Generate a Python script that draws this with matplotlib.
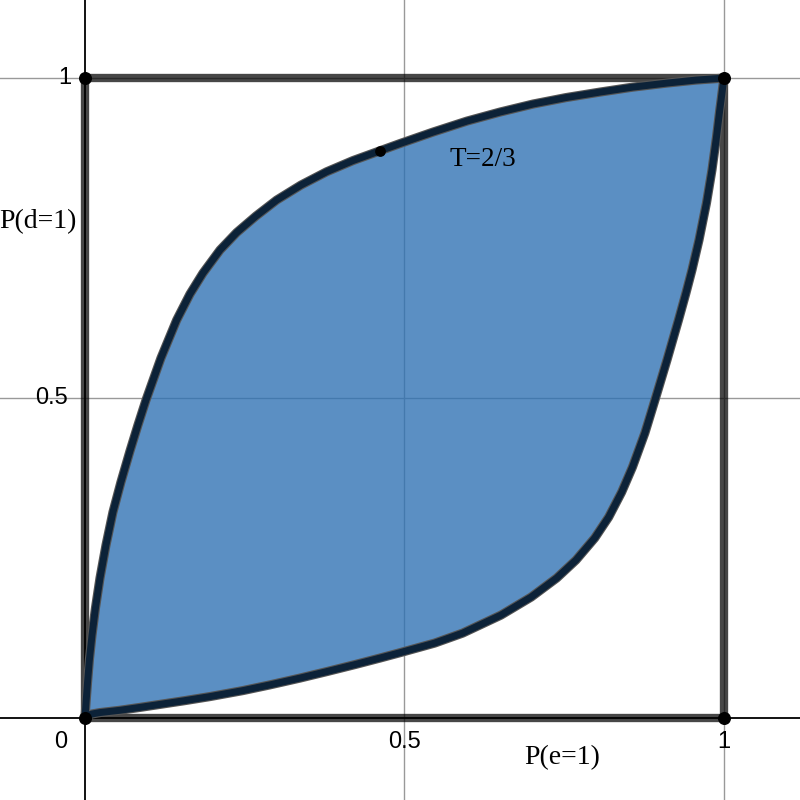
import matplotlib.pyplot as plt

# upper boundary (P(e=1), P(d=1))
upper_x = [0.0, 0.0016, 0.0039, 0.0070, 0.0110, 0.0164, 0.0235, 0.0329, 0.0438,
           0.0563, 0.0704, 0.0829, 0.0955, 0.1189, 0.1435, 0.1643, 0.1847, 0.2113,
           0.2374, 0.2676, 0.3000, 0.3380, 0.3782, 0.4194, 0.4617, 0.4930, 0.5446,
           0.5978, 0.6495, 0.7011, 0.7527, 0.8059, 0.8576, 0.9108, 0.9562, 1.0]
upper_y = [0.0, 0.0234, 0.0547, 0.0922, 0.1297, 0.1719, 0.2188, 0.2703, 0.3219,
           0.3688, 0.4172, 0.4578, 0.4969, 0.5625, 0.6219, 0.6625, 0.6953, 0.7313,
           0.7586, 0.7844, 0.8094, 0.8328, 0.8536, 0.8711, 0.8864, 0.8977, 0.9156,
           0.9328, 0.9469, 0.9594, 0.9695, 0.9781, 0.9859, 0.9922, 0.9969, 1.0]

# lower boundary
lower_x = [0.0, 0.0047, 0.0110, 0.0235, 0.0548, 0.0861, 0.1174, 0.1565, 0.1956,
           0.2473, 0.2895, 0.3365, 0.3787, 0.4225, 0.4617, 0.4909, 0.5473, 0.5911,
           0.6510, 0.6983, 0.7382, 0.7684, 0.7977, 0.8196, 0.8399, 0.8568, 0.8762,
           0.8920, 0.9108, 0.9288, 0.9405, 0.9499, 0.9609, 0.9726, 0.9812, 0.9883,
           0.9934, 0.9955, 0.9981, 1.0]
lower_y = [0.0, 0.0041, 0.0064, 0.0086, 0.0122, 0.0167, 0.0214, 0.0273, 0.0336,
           0.0430, 0.0519, 0.0625, 0.0727, 0.0836, 0.0938, 0.1016, 0.1172, 0.1328,
           0.1609, 0.1891, 0.2188, 0.2469, 0.2813, 0.3141, 0.3531, 0.3922, 0.4453,
           0.4969, 0.5594, 0.6219, 0.6641, 0.7000, 0.7469, 0.8047, 0.8563, 0.9078,
           0.9500, 0.9656, 0.9859, 1.0]

marked_point = (0.4617, 0.8864)
marked_label = "T=2/3"

grid_ticks = [0, 0.5, 1]
tick_labels = ["0", "0.5", "1"]

fig = plt.figure(figsize=(8, 8), dpi=100)
ax = fig.add_axes([0, 0, 1, 1])
ax.set_xlim(-0.133, 1.119)
ax.set_ylim(-0.128, 1.122)
ax.set_axis_off()

# grid + axes
for t in grid_ticks[1:]:
    ax.axvline(t, color="#999999", lw=1.0, zorder=1)
    ax.axhline(t, color="#999999", lw=1.0, zorder=1)
ax.axvline(0, color="black", lw=1.3, zorder=1)
ax.axhline(0, color="black", lw=1.3, zorder=1)

# unit square
sq_x = [0, 1, 1, 0, 0]
sq_y = [0, 0, 1, 1, 0]
ax.plot(sq_x, sq_y, color="black", alpha=0.72, lw=6.0, solid_joinstyle="miter", zorder=2)
ax.scatter([0, 1, 1, 0], [0, 0, 1, 1], s=70, color="black", zorder=6)

# shaded region
poly_x = upper_x + lower_x[::-1]
poly_y = upper_y + lower_y[::-1]
ax.fill(poly_x, poly_y, color="#2d70b3", alpha=0.78, lw=0, zorder=3)

for xs, ys in [(upper_x, upper_y), (lower_x, lower_y)]:
    ax.plot(xs, ys, color="#555555", lw=6.6, solid_capstyle="round",
            solid_joinstyle="round", zorder=4)
    ax.plot(xs, ys, color="#0c2238", lw=5.0, solid_capstyle="round",
            solid_joinstyle="round", zorder=5)

ax.scatter([marked_point[0]], [marked_point[1]], s=45, color="black", zorder=7)

# labels
serif = "Liberation Serif"
sans = "Liberation Sans"
ax.text(0.571, 0.872, marked_label, family=serif, fontsize=19.5, va="center", ha="left", zorder=8)
ax.text(-0.134, 0.775, "P(d=1)", family=serif, fontsize=20, va="center", ha="left", zorder=8)
ax.text(0.747, -0.061, "P(e=1)", family=serif, fontsize=20, va="center", ha="center", zorder=8)

ax.text(-0.022, 1.0, tick_labels[2], family=sans, fontsize=17, va="center", ha="right", zorder=8)
ax.text(-0.026, 0.5, tick_labels[1], family=sans, fontsize=17, va="center", ha="right", zorder=8)
ax.text(-0.028, -0.037, tick_labels[0], family=sans, fontsize=17, va="center", ha="right", zorder=8)
ax.text(0.5, -0.037, tick_labels[1], family=sans, fontsize=17, va="center", ha="center", zorder=8)
ax.text(1.0, -0.037, tick_labels[2], family=sans, fontsize=17, va="center", ha="center", zorder=8)

fig.savefig("out.png", dpi=100)
